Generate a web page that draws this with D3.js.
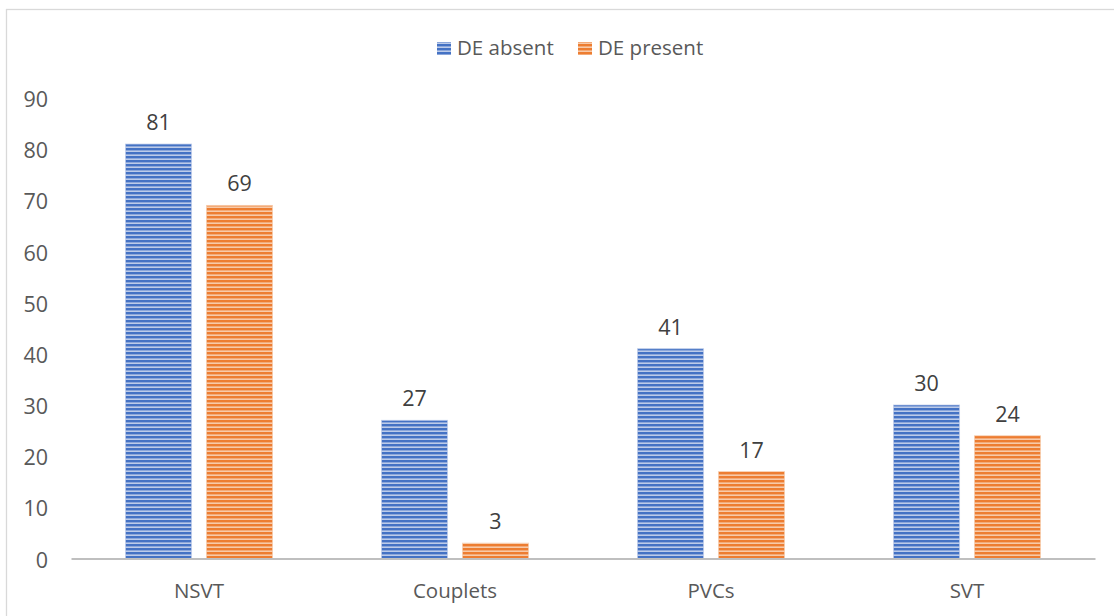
<!DOCTYPE html>
<html><head><meta charset="utf-8">
<script src="https://cdn.jsdelivr.net/npm/d3@7"></script>
<style>body{margin:0;background:#fff}svg{display:block}</style>
</head><body><div id="chart"></div>
<script>
const categories = ["NSVT", "Couplets", "PVCs", "SVT"];
const seriesNames = ["DE absent", "DE present"];
const deAbsent = [81, 27, 41, 30];
const dePresent = [69, 3, 17, 24];
const yTicks = [0, 10, 20, 30, 40, 50, 60, 70, 80, 90];

const W = 1114, H = 616;
const colors = ["#4472C4", "#ED7D31"];
const lights = ["#bccbe9", "#f7caa9"];
const font = "'Open Sans', 'Liberation Sans', sans-serif";

const svg = d3.select("#chart").append("svg").attr("width", W).attr("height", H);
const defs = svg.append("defs");
colors.forEach((c, i) => {
  const p = defs.append("pattern").attr("id", "pat" + i).attr("patternUnits", "userSpaceOnUse")
    .attr("width", 8).attr("height", 4);
  p.append("rect").attr("width", 8).attr("height", 4).attr("fill", lights[i]);
  p.append("rect").attr("y", 0).attr("width", 8).attr("height", 2.4).attr("fill", c);
});

// chart border
svg.append("rect").attr("x", 6.5).attr("y", 9.5).attr("width", W + 20).attr("height", H + 20)
  .attr("fill", "none").attr("stroke", "#d9d9d9").attr("stroke-width", 1.3);

const x0 = d3.scaleBand().domain(categories).range([71, 1095]);
const x1 = d3.scaleBand().domain(seriesNames).range([0, 147]).paddingInner(0.185);
const y = d3.scaleLinear().domain([0, 90]).range([558.5, 98]);

// y axis labels
const ya = svg.append("g").attr("transform", "translate(48,0)")
  .call(d3.axisLeft(y).tickValues(yTicks).tickSize(0).tickPadding(0));
ya.select(".domain").remove();
ya.selectAll("text").attr("font-family", font).attr("font-size", 21.5).attr("fill", "#595959")
  .attr("dy", "0.4em");

const data = categories.map((c, i) => ({cat: c, vals: [deAbsent[i], dePresent[i]]}));
const groups = svg.append("g").selectAll("g").data(data).join("g")
  .attr("transform", d => `translate(${x0(d.cat) + (x0.bandwidth() - 147) / 2},0)`);

groups.selectAll("rect").data(d => d.vals.map((v, i) => ({v, i, s: seriesNames[i]}))).join("rect")
  .attr("x", d => x1(d.s)).attr("width", x1.bandwidth())
  .attr("y", d => y(d.v)).attr("height", d => y(0) - y(d.v))
  .attr("fill", d => `url(#pat${d.i})`)
  .attr("stroke", d => lights[d.i]).attr("stroke-width", 1).attr("stroke-opacity", 0.7);

groups.selectAll("text.val").data(d => d.vals.map((v, i) => ({v, i, s: seriesNames[i]}))).join("text")
  .attr("class", "val")
  .attr("x", d => x1(d.s) + x1.bandwidth() / 2).attr("y", d => y(d.v) - 14)
  .attr("text-anchor", "middle").attr("font-family", font).attr("font-size", 21.5)
  .attr("fill", "#404040").text(d => d.v);

// x axis
const xa = svg.append("g").attr("transform", `translate(0,${y(0)})`)
  .call(d3.axisBottom(x0).tickSize(0).tickPadding(25));
xa.select(".domain").attr("stroke", "#bfbfbf").attr("stroke-width", 2.2);
xa.selectAll("text").attr("font-family", font).attr("font-size", 20.5).attr("fill", "#595959");

// legend
const leg = svg.append("g");
const legX = [437, 578];
seriesNames.forEach((s, i) => {
  leg.append("rect").attr("x", legX[i]).attr("y", 42).attr("width", 14).attr("height", 13)
    .attr("fill", `url(#pat${i})`);
  leg.append("text").attr("x", legX[i] + 20).attr("y", 54.5)
    .attr("font-family", font).attr("font-size", 20.5).attr("fill", "#595959").text(s);
});
</script></body></html>
